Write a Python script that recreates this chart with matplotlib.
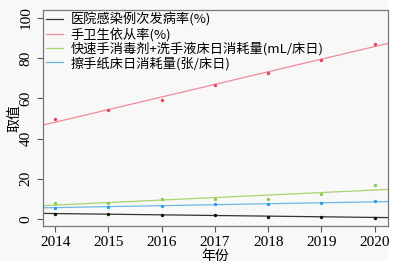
import numpy as np
import matplotlib
matplotlib.use("Agg")
import matplotlib.pyplot as plt
from matplotlib.patches import Rectangle

# data
years = [2014, 2015, 2016, 2017, 2018, 2019, 2020]
infection_rate = [2.5, 2.5, 2.2, 1.8, 1.2, 1.2, 0.7]
hand_hygiene = [50.0, 54.0, 59.2, 66.5, 72.7, 79.3, 87.2]
sanitizer_use = [8.0, 8.0, 9.8, 10.0, 9.7, 12.3, 16.8]
paper_use = [5.7, 6.0, 6.7, 7.3, 7.5, 7.8, 8.7]

labels = [
    "医院感染例次发病率(%)",
    "手卫生依从率(%)",
    "快速手消毒剂+洗手液床日消耗量(mL/床日)",
    "擦手纸床日消耗量(张/床日)",
]
colors = ["#333333", "#f08a9a", "#a9d36b", "#6cb8e6"]
dot_colors = ["#111111", "#e8405e", "#8ccc4c", "#2aa0e0"]

plt.rcParams["font.family"] = ["Liberation Serif", "Noto Sans CJK SC"]

fig = plt.figure(figsize=(4.06, 2.68), dpi=100, facecolor="#f8f8f8")
fig.patches.append(Rectangle((388 / 406, 0), 1, 1, transform=fig.transFigure,
                             facecolor="white", edgecolor="none", zorder=-1))
fig.patches.append(Rectangle((0, 0), 1, 7 / 268, transform=fig.transFigure,
                             facecolor="white", edgecolor="none", zorder=-1))
ax = fig.add_axes([43 / 406, 1 - 226 / 268, 345 / 406, 216 / 268])
ax.set_facecolor("#f8f8f8")

x = np.array(years, dtype=float)
xl = np.array([2013.77, 2020.25])
for series, lc, dc, lab in zip([infection_rate, hand_hygiene, sanitizer_use, paper_use],
                               colors, dot_colors, labels):
    k, b = np.polyfit(x, series, 1)
    ax.plot(xl, k * xl + b, color=lc, lw=0.9, label=lab)
    ax.scatter(x, series, s=6, color=dc, zorder=3, linewidths=0)

ax.set_xlim(2013.77, 2020.25)
ax.set_ylim(-3.5, 104)
ax.set_xticks(years)
ax.set_yticks([0, 20, 40, 60, 80, 100])
ax.tick_params(axis="y", labelrotation=90, labelsize=11, length=4, color="#555555")
ax.tick_params(axis="x", labelsize=11, length=4, color="#555555")
for lab in ax.get_yticklabels():
    lab.set_va("center")
for s in ax.spines.values():
    s.set_color("#777777")
    s.set_linewidth(0.9)

ax.set_xlabel("年份", fontsize=10, labelpad=0, family=["Noto Sans CJK SC"])
ax.set_ylabel("取值", fontsize=10, labelpad=-1, family=["Noto Sans CJK SC"])

leg = ax.legend(loc="upper left", frameon=False, handlelength=1.3,
                handletextpad=0.6, labelspacing=0.05, borderaxespad=0.1,
                borderpad=0.1, prop={"family": ["Noto Sans CJK SC"], "size": 9.5})

fig.savefig("out.png", dpi=100, facecolor=fig.get_facecolor())
